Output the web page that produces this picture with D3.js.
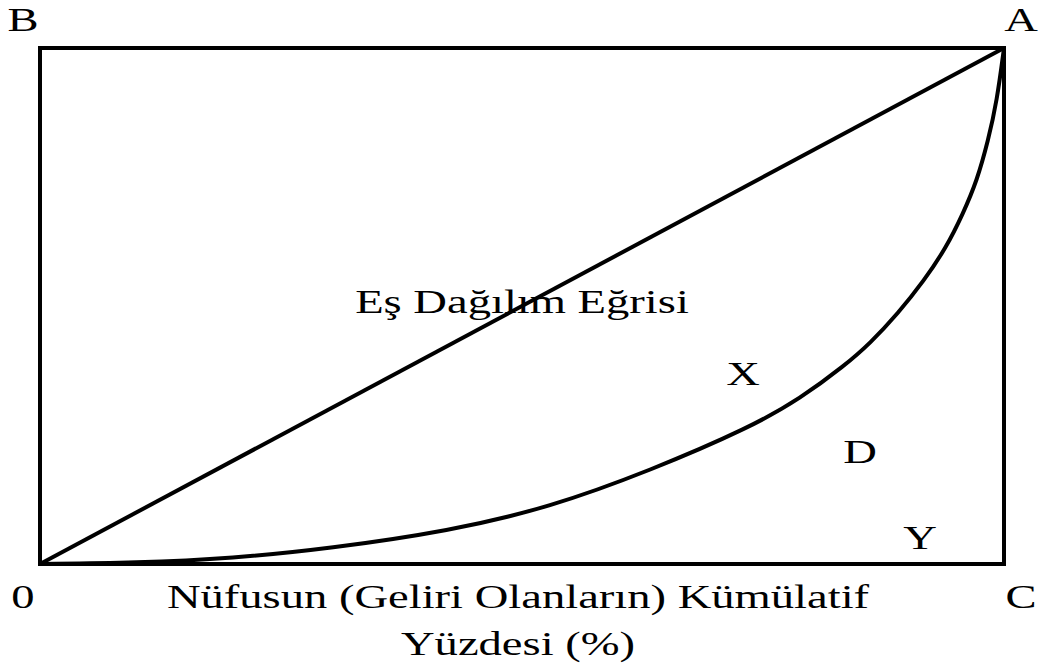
<!DOCTYPE html>
<html>
<head>
<meta charset="utf-8">
<script src="https://cdn.jsdelivr.net/npm/d3@7"></script>
<style>
  html, body { margin: 0; padding: 0; background: #fff; }
  svg text { font-family: "Liberation Serif", "Times New Roman", serif; fill: #000; }
</style>
</head>
<body>
<div id="chart"></div>
<script>
// Lorenz eğrisi: nüfusun kümülatif yüzdesi (x) ve gelirin kümülatif yüzdesi (y)
const cumPopulation = [0, 10, 20, 30, 42.5, 52.9, 63.3, 73.7, 78.9, 83.5, 86.1, 89.0, 91.7, 94.0, 95.75, 97.2, 98.35, 99.27, 100];
const cumIncome     = [0, 0.2, 1.1, 3.0, 6.4, 11.0, 18.1, 26.5, 32.1, 38.5, 42.75, 48.55, 54.9, 61.3, 67.9, 74.3, 82.0, 89.75, 100];

// Eşit dağılım doğrusu (0 -> A)
const equalityLine = [0, 100];

// Köşe ve alan etiketleri
const cornerLabels = ["0", "B", "A", "C"];
const areaLabels = ["X", "D", "Y"];
const equalityLabel = "Eş Dağılım Eğrisi";
const xAxisTitle = ["Nüfusun (Geliri Olanların) Kümülatif", "Yüzdesi (%)"];

const width = 1045, height = 668;
const stretch = 1.37;   // metin yatayda genişletilmiş
const fontSize = 34;

const svg = d3.select("#chart").append("svg")
    .attr("width", width)
    .attr("height", height);

const x = d3.scaleLinear().domain([0, 100]).range([40, 1004]);
const y = d3.scaleLinear().domain([0, 100]).range([564, 48]);

// Çerçeve (0-B-A-C)
svg.append("rect")
    .attr("x", x(0)).attr("y", y(100))
    .attr("width", x(100) - x(0)).attr("height", y(0) - y(100))
    .attr("fill", "none").attr("stroke", "#000").attr("stroke-width", 4);

// Eşit dağılım doğrusu
svg.append("line")
    .attr("x1", x(equalityLine[0])).attr("y1", y(equalityLine[0]))
    .attr("x2", x(equalityLine[1])).attr("y2", y(equalityLine[1]))
    .attr("stroke", "#000").attr("stroke-width", 4);

// Lorenz eğrisi (B-spline ile yumuşatılmış)
const lorenz = cumPopulation.map((p, i) => [p, cumIncome[i]]);
svg.append("path")
    .datum(lorenz)
    .attr("fill", "none").attr("stroke", "#000").attr("stroke-width", 4)
    .attr("stroke-linejoin", "round")
    .attr("d", d3.line().x(d => x(d[0])).y(d => y(d[1])).curve(d3.curveBasis));

// Metin yardımcı fonksiyonu (yatay gerdirme ile)
function label(txt, cx, by) {
    svg.append("text")
        .attr("transform", `translate(${cx},${by}) scale(${stretch},1)`)
        .attr("text-anchor", "middle")
        .attr("font-size", fontSize)
        .text(txt);
}

// Köşe etiketleri: 0, B, A, C
const cornerPos = [[23, 608], [23, 31], [1021, 31], [1021, 608]];
cornerLabels.forEach((t, i) => label(t, cornerPos[i][0], cornerPos[i][1]));

// Alan etiketleri
const areaPos = [[743, 385], [860, 463], [920, 549]];
areaLabels.forEach((t, i) => label(t, areaPos[i][0], areaPos[i][1]));

label(equalityLabel, 522, 313);
label(xAxisTitle[0], 518, 608);
label(xAxisTitle[1], 518, 655);
</script>
</body>
</html>
